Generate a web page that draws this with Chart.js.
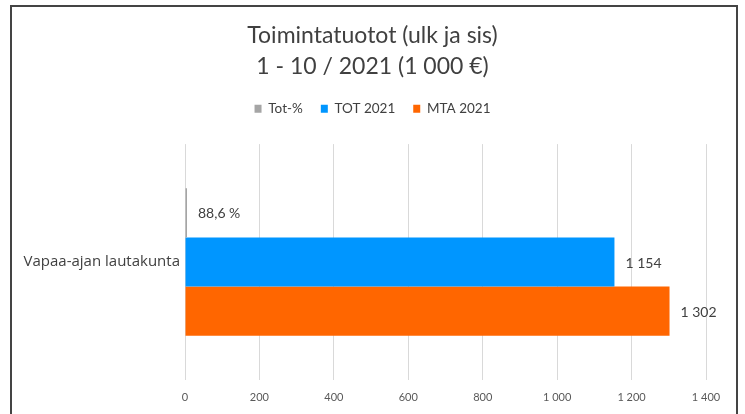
<!DOCTYPE html>
<html>
<head>
<meta charset="utf-8">
<script src="https://cdn.jsdelivr.net/npm/chart.js@4.4.0/dist/chart.umd.min.js"></script>
<style>
  html, body { margin: 0; padding: 0; background: #fff; }
  #wrap { position: relative; width: 745px; height: 414px; overflow: hidden; }
  #frame { position: absolute; left: 10px; top: 5px; width: 724px; height: 500px; border: 2px solid #444; pointer-events: none; }
  canvas { position: absolute; left: 0; top: 0; }
</style>
</head>
<body>
<div id="wrap">
  <canvas id="c" width="745" height="414"></canvas>
  <div id="frame"></div>
</div>
<script>
const categories = ['Vapaa-ajan lautakunta'];
const seriesNames = ['Tot-%', 'TOT 2021', 'MTA 2021'];
const totPercent = [0.886];
const tot2021 = [1154];
const mta2021 = [1302];
const xTicks = [0, 200, 400, 600, 800, 1000, 1200, 1400];

const FONT = 'Lato, "Liberation Sans", sans-serif';
const fmtNum = v => String(Math.round(v)).replace(/\B(?=(\d{3})+(?!\d))/g, ' ');
const fmtPct = v => (v * 100).toFixed(1).replace('.', ',') + ' %';

const valueLabels = {
  id: 'valueLabels',
  afterDatasetsDraw(chart) {
    const ctx = chart.ctx;
    ctx.save();
    ctx.font = '14px ' + FONT;
    ctx.fillStyle = '#404040';
    ctx.textAlign = 'left';
    ctx.textBaseline = 'middle';
    chart.data.datasets.forEach((ds, di) => {
      const meta = chart.getDatasetMeta(di);
      meta.data.forEach((bar, i) => {
        const v = ds.data[i];
        const txt = di === 0 ? fmtPct(v) : fmtNum(v);
        ctx.fillText(txt, bar.x + 11, bar.y + 1);
      });
    });
    ctx.restore();
  }
};

new Chart(document.getElementById('c'), {
  type: 'bar',
  data: {
    labels: categories,
    datasets: [
      { label: seriesNames[0], data: totPercent, backgroundColor: '#a5a5a5', minBarLength: 2 },
      { label: seriesNames[1], data: tot2021, backgroundColor: '#0096ff' },
      { label: seriesNames[2], data: mta2021, backgroundColor: '#ff6600' }
    ]
  },
  options: {
    indexAxis: 'y',
    responsive: false,
    animation: false,
    datasets: { bar: { categoryPercentage: 0.625, barPercentage: 1, borderWidth: 0 } },
    layout: { padding: 0 },
    scales: {
      x: {
        min: 0, max: 1400,
        afterBuildTicks(scale) { scale.ticks = xTicks.map(v => ({ value: v })); },
        afterFit(scale) { scale.height = 34; },
        grid: { color: '#d9d9d9', lineWidth: 1, drawTicks: false },
        border: { display: false },
        ticks: {
          padding: 11,
          color: '#595959',
          font: { family: FONT, size: 11 },
          callback: v => fmtNum(v)
        }
      },
      y: {
        afterFit(scale) { scale.width = 185; },
        grid: { display: false, drawTicks: false },
        border: { display: false },
        ticks: { padding: 5, color: '#404040', font: { family: '"Open Sans", ' + FONT, size: 15 } }
      },
      yr: {
        type: 'category',
        position: 'right',
        labels: categories,
        afterFit(scale) { scale.width = 39; },
        grid: { display: false, drawTicks: false },
        border: { display: false },
        ticks: { display: false }
      }
    },
    plugins: {
      title: {
        display: true,
        text: ['Toimintatuotot (ulk ja sis)', '1 - 10 / 2021 (1 000 €)'],
        color: '#404040',
        font: { family: FONT, size: 23, weight: 'normal', lineHeight: 1.35 },
        padding: { top: 20, bottom: 2 }
      },
      legend: {
        display: true,
        position: 'top',
        weight: 1750,
        labels: {
          boxWidth: 7, boxHeight: 8, padding: 18,
          color: '#404040',
          font: { family: FONT, size: 13.5 }
        }
      },
      subtitle: {
        display: true,
        text: '',
        weight: 1000,
        font: { size: 1, lineHeight: 1 },
        padding: { top: 17.5, bottom: 0 }
      },
      tooltip: { enabled: false }
    }
  },
  plugins: [valueLabels]
});
</script>
</body>
</html>
